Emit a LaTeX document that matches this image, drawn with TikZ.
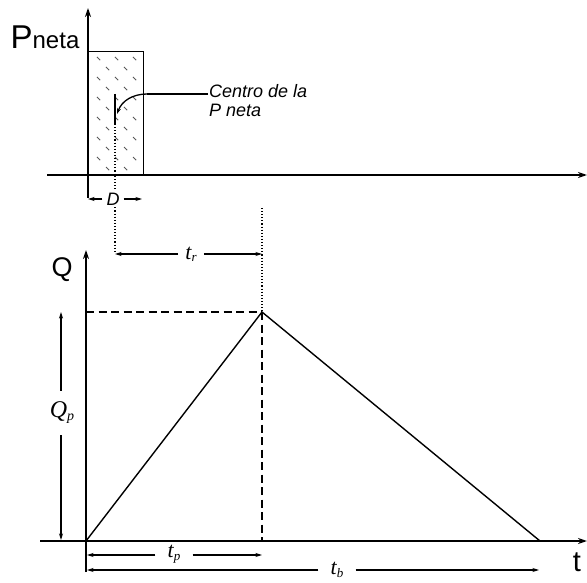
\documentclass[tikz,border=0pt]{standalone}
\usepackage{fontspec}
\setmainfont{Liberation Sans}
\newfontfamily\serifit{Liberation Serif}
\usetikzlibrary{arrows.meta}
\begin{document}
\begin{tikzpicture}[x=1pt,y=-1pt,
  axis/.style={line width=1.6pt,-{Stealth[length=9pt,width=6pt]}},
  dimarrow/.style={line width=1.2pt,-{Stealth[length=6.5pt,width=4pt]}},
  plain/.style={line width=1.2pt},
  dots/.style={line width=1.1pt,dash pattern=on 1.1pt off 2pt},
  dashline/.style={line width=1.2pt,dash pattern=on 8pt off 4.5pt},
  hatch/.style={line width=1pt,black!65},
  lbl/.style={inner sep=1pt},
  mathlbl/.style={inner sep=2pt}]
\useasboundingbox (0,0) rectangle (587,583);
% ---------- top plot ----------
\coordinate (pbot) at (88,198);
\coordinate (ptop) at (88,8);
\coordinate (hleft) at (47,175);
\coordinate (hright) at (587,175);
\draw[axis] (pbot) -- (ptop);
\draw[axis] (hleft) -- (hright);
\node[draw,line width=1.4pt,minimum width=55pt,minimum height=123pt,inner sep=0,anchor=south west] (rect) at (88,175) {};
\foreach \r in {0,...,11}{
  \pgfmathsetmacro{\yy}{57+\r*10}
  \pgfmathsetmacro{\off}{mod(\r,2)*9}
  \foreach \c in {0,...,2}{
    \pgfmathsetmacro{\xx}{97+\off+\c*18}
    \ifdim \xx pt<139pt
      \draw[hatch] (\xx,\yy) -- ++(3.2,3.2);
    \fi
  }
}
\node[lbl] (Pn) at (45,37) {\fontsize{33}{33}\selectfont P\fontsize{24}{24}\selectfont neta};
% centre mark and leader
\coordinate (cmtop) at (115,94);
\coordinate (cmbot) at (115,124);
\draw[plain] (cmtop) -- (cmbot);
\draw[dots] (cmbot) -- (115,175);
\node[lbl,anchor=west,align=left,font=\fontsize{18}{19}\selectfont\itshape] (cl) at (208,101) {Centro de la\\P neta};
\coordinate (lk) at (147,94);
\coordinate (ltip) at (117,114);
\draw[line width=1.3pt] (cl.west |- 0,94) -- (lk);
\draw[line width=1.3pt,-{Stealth[length=6pt,width=4pt]}] (lk) to[out=180,in=70] (ltip);
% D dimension
\node[lbl,inner xsep=4pt,inner ysep=2pt,font=\fontsize{18}{18}\selectfont\itshape] (D) at (113,199) {D};
\coordinate (dl) at (88,199);
\coordinate (dr) at (142,199);
\draw[dimarrow] (D.west) -- (dl);
\draw[dimarrow] (D.east) -- (dr);
% dotted verticals
\coordinate (dtop) at (115,176);
\coordinate (dbot) at (115,253);
\draw[dots] (dtop) -- (dtop |- D.north);
\draw[dots] (dbot |- D.south) -- (dbot);
\coordinate (ptopd) at (262,208);
\coordinate (peak) at (262,312);
\draw[dots] (ptopd) -- (peak);
% t_r dimension
\node[mathlbl,inner xsep=7pt,font=\serifit\itshape\fontsize{22}{22}\selectfont] (tr) at (191,254) {t\raisebox{-2pt}{\fontsize{13}{13}\selectfont r}};
\coordinate (trl) at (115,254);
\coordinate (trr) at (262,254);
\draw[dimarrow] (tr.west) -- (trl);
\draw[dimarrow] (tr.east) -- (trr);
% ---------- bottom plot ----------
\coordinate (O) at (86,541);
\coordinate (qbot) at (86,572);
\coordinate (qtop) at (86,250);
\coordinate (tleft) at (40,541);
\coordinate (tright) at (587,541);
\coordinate (tend) at (540,541);
\coordinate (qpy) at (86,312);
\coordinate (pfoot) at (262,541);
\draw[axis] (qbot) -- (qtop);
\draw[axis] (tleft) -- (tright);
\draw[line width=1.4pt] (O) -- (peak) -- (tend);
\draw[dashline] (qpy) -- (peak);
\draw[dashline] (peak) -- (pfoot);
\node[lbl,font=\fontsize{27}{27}\selectfont] (Q) at (62,270) {Q};
\node[lbl,font=\fontsize{29}{29}\selectfont] (t) at (577,562) {t};
% Q_p
\node[mathlbl,inner ysep=11pt,font=\serifit\itshape\fontsize{24}{24}\selectfont] (Qp) at (62,413) {Q\raisebox{-3pt}{\fontsize{14}{14}\selectfont p}};
\coordinate (qpt) at (61,312);
\coordinate (qpb) at (61,540);
\draw[dimarrow] (Qp.north -| qpt) -- (qpt);
\draw[dimarrow] (Qp.south -| qpb) -- (qpb);
% t_p
\node[mathlbl,inner xsep=12pt,font=\serifit\itshape\fontsize{22}{22}\selectfont] (tp) at (174,554) {t\raisebox{-3pt}{\fontsize{13}{13}\selectfont p}};
\coordinate (tpl) at (87,555);
\coordinate (tpr) at (262,555);
\draw[dimarrow] (tp.west |- tpl) -- (tpl);
\draw[dimarrow] (tp.east |- tpr) -- (tpr);
% t_b
\node[mathlbl,inner xsep=12pt,font=\serifit\itshape\fontsize{22}{22}\selectfont] (tb) at (337,570) {t\raisebox{-3pt}{\fontsize{13}{13}\selectfont b}};
\coordinate (tbl) at (87,570);
\coordinate (tbr) at (539,570);
\draw[dimarrow] (tb.west |- tbl) -- (tbl);
\draw[dimarrow] (tb.east |- tbr) -- (tbr);
\end{tikzpicture}
\end{document}
